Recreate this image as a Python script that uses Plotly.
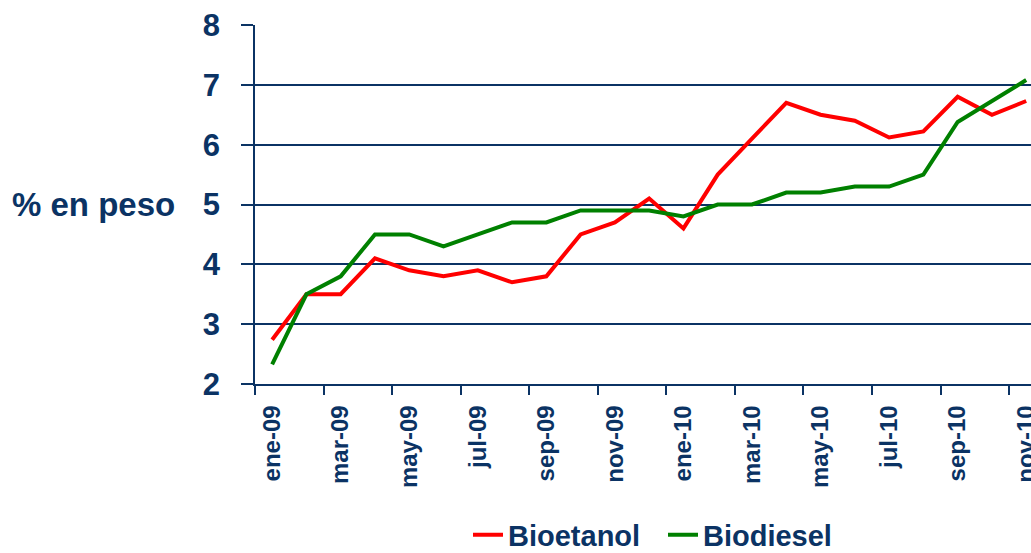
import plotly.graph_objects as go

months = ["ene-09", "feb-09", "mar-09", "abr-09", "may-09", "jun-09", "jul-09", "ago-09",
          "sep-09", "oct-09", "nov-09", "dic-09", "ene-10", "feb-10", "mar-10", "abr-10",
          "may-10", "jun-10", "jul-10", "ago-10", "sep-10", "oct-10", "nov-10"]
bioetanol = [2.74, 3.5, 3.5, 4.1, 3.9, 3.8, 3.9, 3.7, 3.8, 4.5, 4.7, 5.1, 4.6, 5.5, 6.1,
             6.7, 6.5, 6.4, 6.12, 6.22, 6.8, 6.5, 6.73]
biodiesel = [2.33, 3.5, 3.8, 4.5, 4.5, 4.3, 4.5, 4.7, 4.7, 4.9, 4.9, 4.9, 4.8, 5.0, 5.0,
             5.2, 5.2, 5.3, 5.3, 5.5, 6.38, 6.73, 7.08]
y_ticks = [2, 3, 4, 5, 6, 7, 8]

NAVY = "#0B3364"
FONT = "Liberation Sans, Arial, sans-serif"

idx = list(range(len(months)))

fig = go.Figure()
fig.add_trace(go.Scatter(x=idx, y=bioetanol, mode="lines", name="Bioetanol",
                         line=dict(color="#FF0000", width=4)))
fig.add_trace(go.Scatter(x=idx, y=biodiesel, mode="lines", name="Biodiesel",
                         line=dict(color="#008000", width=4)))

fig.update_layout(
    width=1031, height=553,
    margin=dict(l=255, r=0, t=25, b=169, autoexpand=False),
    paper_bgcolor="white", plot_bgcolor="white",
    font=dict(family=FONT, color=NAVY, weight="bold"),
    showlegend=True,
    legend=dict(orientation="h", x=(468 - 255) / 776, xanchor="left",
                yref="container", y=1 - 535 / 553, yanchor="middle",
                font=dict(size=29, family=FONT, color=NAVY, weight="bold"),
                itemwidth=30, entrywidth=150, entrywidthmode="pixels",
                tracegroupgap=0, bgcolor="rgba(0,0,0,0)"),
    xaxis=dict(
        range=[-0.5, 22.14], automargin=False,
        tickmode="array", tickvals=idx[::2], ticktext=months[::2],
        tickangle=-90, ticklabeloverflow="allow",
        tickfont=dict(size=24, family=FONT, color=NAVY, weight="bold"),
        ticks="outside", ticklen=10, tickcolor="rgba(0,0,0,0)",
        showline=True, linecolor=NAVY, linewidth=1.5,
        showgrid=False, zeroline=False,
        minor=dict(tickmode="array", tickvals=[i - 0.5 for i in idx[::2]],
                   ticks="outside", ticklen=9, tickcolor=NAVY, tickwidth=1.5,
                   showgrid=False),
    ),
    yaxis=dict(
        range=[2, 8], automargin=False, tickmode="array", tickvals=y_ticks,
        tickfont=dict(size=31, family=FONT, color=NAVY, weight="bold"),
        ticks="outside", ticklen=12, tickcolor=NAVY, tickwidth=1.5,
        ticklabelstandoff=15,
        showline=True, linecolor=NAVY, linewidth=1.5,
        showgrid=True, gridcolor=NAVY, gridwidth=1.5, zeroline=False,
    ),
)

fig.add_annotation(text="% en peso", xref="paper", yref="y",
                   x=(177 - 255) / 776, y=5, xanchor="right", yanchor="middle",
                   showarrow=False,
                   font=dict(size=33, family=FONT, color=NAVY, weight="bold"))

fig.write_html("out.html", config={"displayModeBar": False},
               post_script="document.body.style.margin='0';document.body.style.overflow='hidden';")
